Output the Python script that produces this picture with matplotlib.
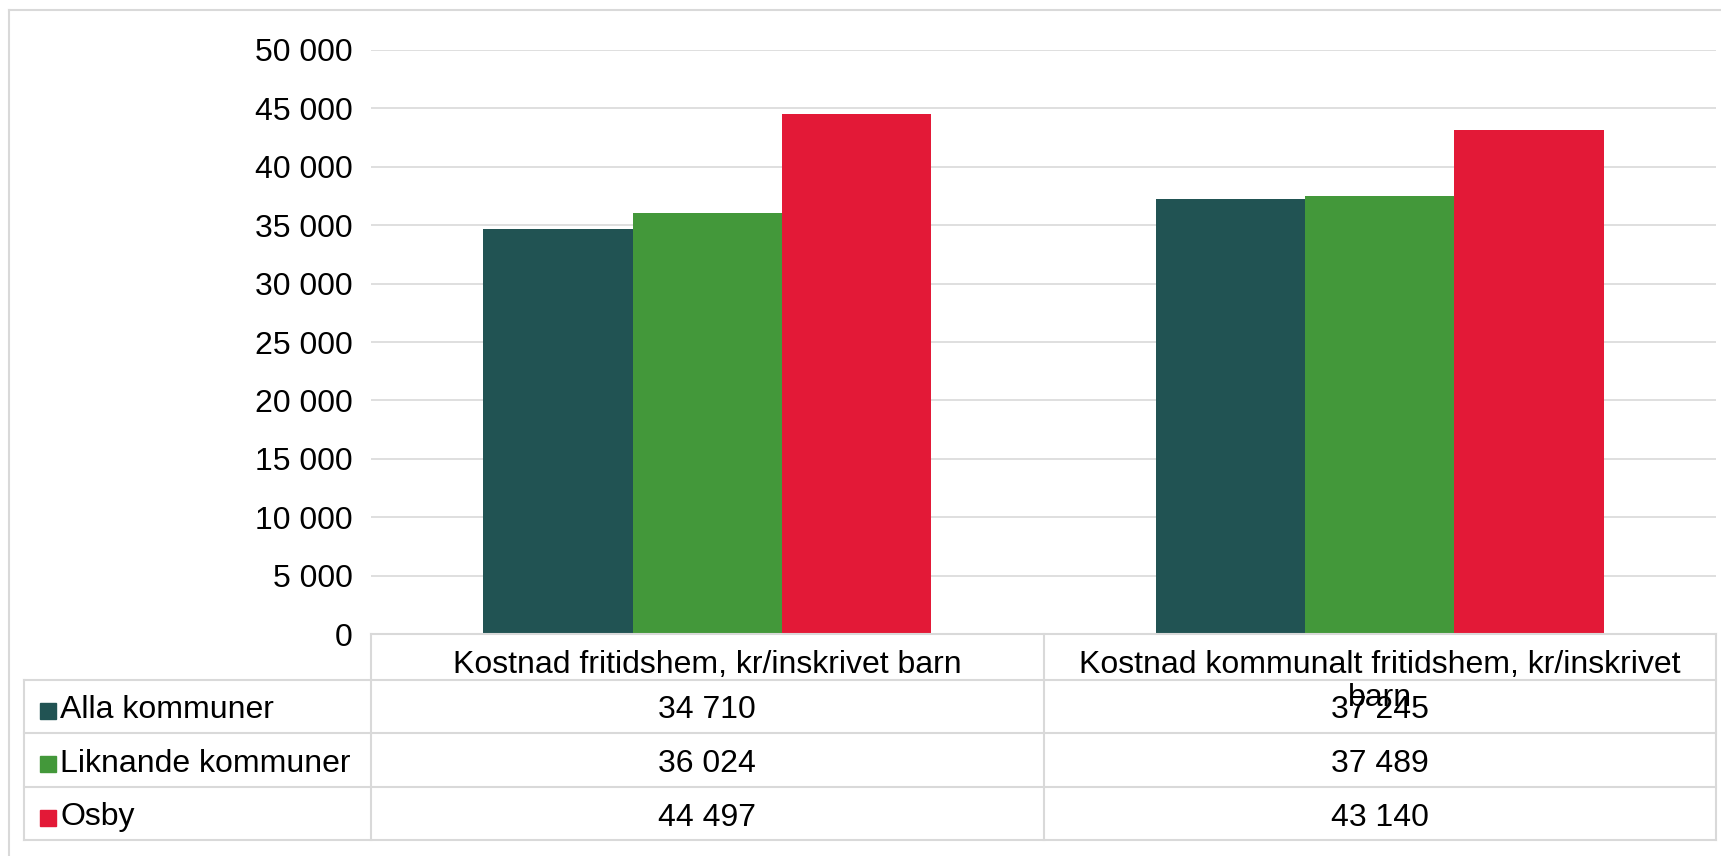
import matplotlib
matplotlib.use("Agg")
import matplotlib.pyplot as plt
from matplotlib.lines import Line2D
from matplotlib.patches import Rectangle
from matplotlib.transforms import blended_transform_factory

plt.rcParams["font.family"] = ["Liberation Sans", "DejaVu Sans"]

categories = ["Kostnad fritidshem, kr/inskrivet barn",
              "Kostnad kommunalt fritidshem, kr/inskrivet\nbarn"]
series_names = ["Alla kommuner", "Liknande kommuner", "Osby"]
alla = [34710, 37245]
liknande = [36024, 37489]
osby = [44497, 43140]
colors = ["#215353", "#43983A", "#E31937"]
yticks = list(range(0, 50001, 5000))

W, H = 1721, 856
FS = 23
GRID = "#d9d9d9"


def fy(px):
    """pixel row from top -> figure fraction"""
    return 1 - px / H


def fmt(v):
    return f"{v:,}".replace(",", " ")


fig = plt.figure(figsize=(W / 100, H / 100), dpi=100)
ax = fig.add_axes([371 / W, fy(634), 1345 / W, (634 - 50) / H])

series = [alla, liknande, osby]
bw = 0.222
for i, (vals, c) in enumerate(zip(series, colors)):
    xs = [k + (i - 1) * bw for k in range(len(categories))]
    ax.bar(xs, vals, width=bw, color=c, zorder=3)

ax.set_xlim(-0.5, len(categories) - 0.5)
ax.set_ylim(0, 50000)
ax.set_yticks(yticks)
ax.set_yticklabels([fmt(t) for t in yticks], fontsize=FS)
ax.tick_params(axis="y", length=0, pad=13)
ax.set_xticks([])
ax.grid(axis="y", color=GRID, lw=1.2, zorder=0)
for s in ax.spines.values():
    s.set_visible(False)

# data table under the plot
tr = blended_transform_factory(ax.transData, fig.transFigure)
rows = [634, 680, 733, 787, 840]
x_left = -0.5 - (371 - 24) / 672.5
x_cols = [-0.5, 0.5, 1.5]

def line(x0, x1, y0, y1):
    fig.add_artist(Line2D([x0, x1], [y0, y1], transform=tr, color=GRID,
                          lw=1.5, clip_on=False))

line(x_cols[0], x_cols[-1], fy(rows[0]), fy(rows[0]))
for r in rows[1:]:
    line(x_left, x_cols[-1], fy(r), fy(r))
for xc in x_cols:
    line(xc, xc, fy(rows[0]), fy(rows[-1]))
line(x_left, x_left, fy(rows[1]), fy(rows[-1]))

for k, cat in enumerate(categories):
    fig.text(k, fy(650), cat, transform=tr, ha="center", va="top",
             fontsize=FS, linespacing=1.12)

for j, (name, vals, c) in enumerate(zip(series_names, series, colors)):
    yc = (rows[j + 1] + rows[j + 2]) / 2 + 4
    fig.add_artist(Rectangle((40 / W, fy(yc + 8)), 16 / W, 16 / H,
                             transform=fig.transFigure, color=c))
    fig.text(60 / W, fy(yc), name, ha="left", va="center", fontsize=FS)
    for k, v in enumerate(vals):
        fig.text(k, fy(yc), fmt(v), transform=tr, ha="center", va="center",
                 fontsize=FS)

# chart area border
fig.add_artist(Line2D([9 / W, 9 / W], [0, fy(10)], transform=fig.transFigure,
                      color=GRID, lw=1.5))
fig.add_artist(Line2D([9 / W, 1], [fy(10), fy(10)], transform=fig.transFigure,
                      color=GRID, lw=1.5))

fig.savefig("out.png", dpi=100)
